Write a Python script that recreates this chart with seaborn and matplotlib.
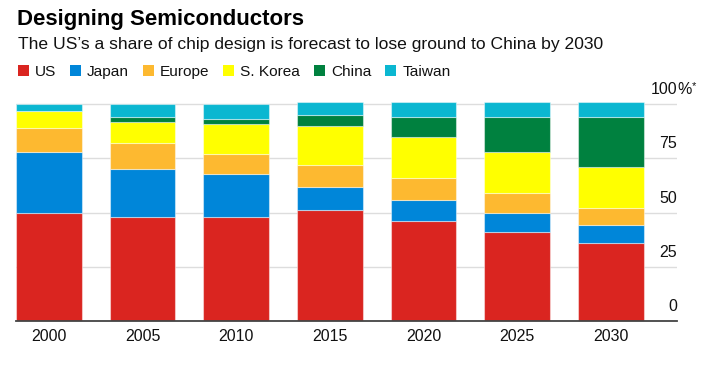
import matplotlib
matplotlib.use("Agg")
import matplotlib.pyplot as plt
import numpy as np
import seaborn as sns
from matplotlib.patches import Patch

years = ["2000", "2005", "2010", "2015", "2020", "2025", "2030"]
us = [50, 48, 48, 51, 46, 41, 36]
japan = [28, 22, 20, 11, 10, 9, 8]
europe = [11, 12, 9, 10, 10, 9, 8]
korea = [8, 10, 14, 18, 19, 19, 19]
china = [0, 2, 2, 5, 9, 16, 23]
taiwan = [3, 6, 7, 6, 7, 7, 7]

regions = ["US", "Japan", "Europe", "S. Korea", "China", "Taiwan"]
colors = ["#DA2520", "#0086D9", "#FDB930", "#FFFF00", "#00813F", "#0BB7D1"]
yticks = [0, 25, 50, 75, 100]

sns.set_style("white")
plt.rcParams["font.family"] = ["Liberation Sans", "DejaVu Sans"]
ink = "#111111"

fig = plt.figure(figsize=(7.11, 3.68), dpi=100)
W, H = 711, 368
ax = fig.add_axes([16 / W, 1 - 320.7 / H, 661 / W, 220.7 / H])

# stacked bars, one barplot call per region
bottom = np.zeros(len(years))
for name, vals, c in zip(regions, [us, japan, europe, korea, china, taiwan], colors):
    sns.barplot(x=years, y=vals, bottom=bottom, color=c, width=0.7,
                saturation=1, edgecolor=(1, 1, 1, 0.45), linewidth=0.8, ax=ax)
    bottom += np.array(vals)

ax.set_xlim(-0.35, 6.707)
ax.set_ylim(0, 102)
ax.set_yticks(yticks)
ax.set_yticklabels([])
ax.yaxis.grid(True, color="#dddddd", lw=1)
ax.set_axisbelow(True)
ax.tick_params(axis="y", length=0)
ax.tick_params(axis="x", length=0, pad=6, labelsize=11.5, labelcolor=ink)
ax.set_xlabel("")
ax.set_ylabel("")
sns.despine(ax=ax, left=True, top=True, right=True)
ax.spines["bottom"].set_color("#444444")
ax.spines["bottom"].set_linewidth(1.3)

# value labels sit above the gridlines, right-aligned at the axis end
for v in yticks:
    ax.annotate(str(v), xy=(1, v), xycoords=("axes fraction", "data"),
                xytext=(0, 10), textcoords="offset pixels",
                ha="right", va="baseline", fontsize=11.5, color=ink)
ax.annotate("%", xy=(1, 100), xycoords=("axes fraction", "data"),
            xytext=(0, 10), textcoords="offset pixels",
            ha="left", va="baseline", fontsize=11.5, color=ink)
ax.annotate("*", xy=(1, 100), xycoords=("axes fraction", "data"),
            xytext=(15, 15), textcoords="offset pixels",
            ha="left", va="baseline", fontsize=8, color=ink)

fig.text(17 / W, 1 - 24.5 / H, "Designing Semiconductors", fontsize=16,
         fontweight="bold", color="black", va="baseline")
fig.text(18 / W, 1 - 49.5 / H,
         "The US\u2019s a share of chip design is forecast to lose ground to China by 2030",
         fontsize=12.6, color=ink, va="baseline")

handles = [Patch(facecolor=c, edgecolor="none", label=n) for n, c in zip(regions, colors)]
fig.legend(handles=handles, loc="upper left", bbox_to_anchor=(18 / W, 1 - 65 / H),
           ncol=6, frameon=False, fontsize=11.1, handlelength=0.7, handleheight=0.7,
           handletextpad=0.4, columnspacing=0.9, borderpad=0, borderaxespad=0,
           labelcolor=ink)

fig.savefig("out.png", dpi=100)
